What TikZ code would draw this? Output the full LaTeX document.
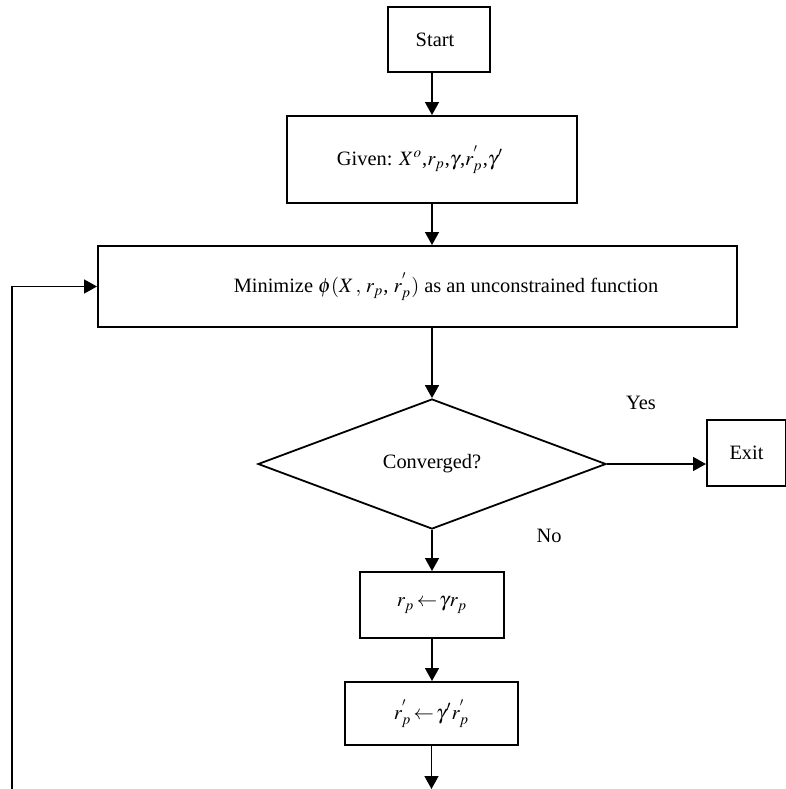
\documentclass[tikz,border=0pt]{standalone}
\usepackage{mathptmx}
\usepackage{fontspec}
\setmainfont{Liberation Serif}
\usetikzlibrary{arrows.meta,shapes.geometric}

\begin{document}
\begin{tikzpicture}[x=0.5pt,y=-0.5pt,
    flowbox/.style={draw, line width=1pt, inner sep=0pt, font=\fontsize{10.2}{12}\selectfont},
    decision/.style={draw, diamond, line width=0.9pt, inner sep=0pt, font=\fontsize{10.2}{12}\selectfont},
    flowlabel/.style={font=\fontsize{10.2}{12}\selectfont},
    flowarrow/.style={line width=0.8pt, -{Triangle[width=7pt,length=6.5pt]}}]
    \useasboundingbox (0,0) rectangle (786,789);
    % Boxes of the main chain
    \node[flowbox, minimum width=51pt, minimum height=32.5pt] (start) at (439,39.5) {Start\hspace*{4pt}};
    \node[flowbox, minimum width=145pt, minimum height=43.5pt] (given) at (432,159.5)
        {Given: $X^{o}$,$r_{p}$,$\gamma$,$r_{p}^{'}$,$\gamma'$\hspace*{12pt}};
    \node[flowbox, minimum width=319.5pt, minimum height=40.5pt] (minim) at (417.5,286.5)
        {\hspace*{28.5pt}Minimize $\phi(X\,,\,r_{p}$, $r_{p}^{'})$ as an unconstrained function};
    \node[decision, minimum width=174pt, minimum height=65pt] (conv) at (432,464) {Converged?};
    \node[flowbox, minimum width=39.5pt, minimum height=33pt] (exit) at (746.5,453) {Exit};
    \node[flowbox, minimum width=72pt, minimum height=33pt] (rp) at (432,605)
        {$r_{p}\!\leftarrow\!\gamma r_{p}$};
    \node[flowbox, minimum width=86.5pt, minimum height=31.5pt] (rpp) at (431.5,713.5)
        {$r_{p}^{'}\!\leftarrow\!\gamma' r_{p}^{'}$};
    % Branch labels
    \node[flowlabel] (yes) at (641,403) {Yes};
    \node[flowlabel] (no) at (549,536) {No};
    % Loose ends at the bottom
    \coordinate (bottom) at (432,789);
    \coordinate (loopend) at (12,789);
    % Connectors
    \draw[flowarrow] (given.north |- start.south) -- (given.north);
    \draw[flowarrow] (given.south) -- (given.south |- minim.north);
    \draw[flowarrow] (conv.north |- minim.south) -- (conv.north);
    \draw[flowarrow] (conv.east) -- (conv.east -| exit.west);
    \draw[flowarrow] (conv.south) -- (rp.north);
    \draw[flowarrow] (rp.south) -- (rp.south |- rpp.north);
    \draw[flowarrow] (rpp.south) -- (rpp.south |- bottom);
    \draw[flowarrow] (loopend) |- (minim.west);
\end{tikzpicture}
\end{document}
